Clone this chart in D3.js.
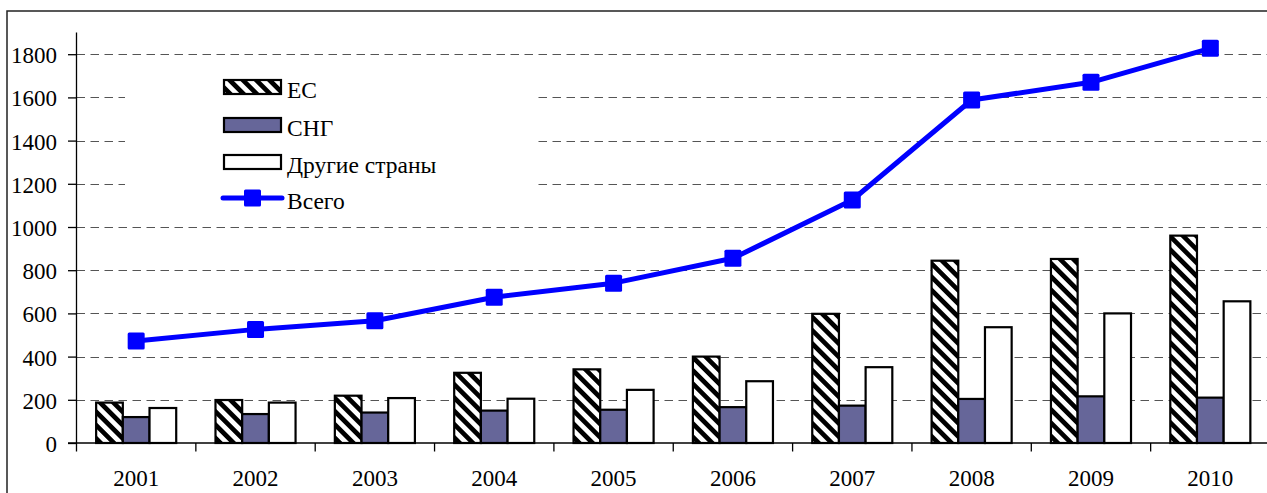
<!DOCTYPE html>
<html>
<head>
<meta charset="utf-8">
<script src="https://cdn.jsdelivr.net/npm/d3@7"></script>
<style>
body { margin: 0; background: #fff; }
svg { display: block; }
</style>
</head>
<body>
<svg id="chart" width="1267" height="493"></svg>
<script>
(function(){

var years = ["2001", "2002", "2003", "2004", "2005", "2006", "2007", "2008", "2009", "2010"];
var seriesNames = ["ЕС", "СНГ", "Другие страны"];
var eu = [187, 199, 219, 325, 341, 400, 598, 844, 852, 960];
var cis = [120, 134, 141, 150, 154, 166, 173, 204, 216, 210];
var other = [162, 187, 208, 205, 246, 286, 351, 536, 600, 656];
var total = [472, 526, 566, 675, 740, 855, 1125, 1588, 1670, 1827];
var totalName = "Всего";
var yTicks = [0, 200, 400, 600, 800, 1000, 1200, 1400, 1600, 1800];

var serif = "'Liberation Serif', 'Times New Roman', serif";
var svg = d3.select("#chart");

// hatch for EU bars
var defs = svg.append("defs");
defs.append("pattern")
	.attr("id", "hatch")
	.attr("patternUnits", "userSpaceOnUse")
	.attr("width", 9.4)
	.attr("height", 9.4)
	.attr("patternTransform", "rotate(-45)")
	.call(function(p){
		p.append("rect").attr("width", 9.4).attr("height", 9.4).attr("fill", "#fff");
		p.append("rect").attr("width", 4.7).attr("height", 9.4).attr("fill", "#000");
	});

var fills = ["url(#hatch)", "#666699", "#ffffff"];
var values = [eu, cis, other];

var x = d3.scaleBand().domain(years).range([76.5, 1270]);
var xs = d3.scaleBand().domain(seriesNames).range([0, x.bandwidth()]).paddingOuter(0.736);
var y = d3.scaleLinear().domain([0, 1900]).range([443, 32.6]);

// outer frame
svg.append("rect")
	.attr("x", 7).attr("y", 11)
	.attr("width", 1300).attr("height", 500)
	.attr("fill", "none")
	.attr("stroke", "#222")
	.attr("stroke-width", 1.5);

// gridlines
svg.append("g")
	.selectAll("line")
	.data(yTicks.slice(1))
	.join("line")
		.attr("x1", 76.5)
		.attr("x2", 1270)
		.attr("y1", function(d){ return Math.round(y(d)) + 0.5; })
		.attr("y2", function(d){ return Math.round(y(d)) + 0.5; })
		.attr("stroke", "#555")
		.attr("stroke-width", 1)
		.attr("stroke-dasharray", "8.5,5.5");

// legend background hides the gridlines
svg.append("rect")
	.attr("x", 125).attr("y", 66)
	.attr("width", 412).attr("height", 148)
	.attr("fill", "#fff");

//BARS
seriesNames.forEach(function(name, i){
	svg.append("g")
		.selectAll("rect")
		.data(values[i])
		.join("rect")
			.attr("x", function(d, j){ return x(years[j]) + xs(name); })
			.attr("y", function(d){ return y(d); })
			.attr("width", xs.bandwidth())
			.attr("height", function(d){ return y(0) - y(d); })
			.attr("fill", fills[i])
			.attr("stroke", "#000")
			.attr("stroke-width", 2.2);
});

//TOTAL LINE
var line = d3.line()
	.x(function(d, j){ return x(years[j]) + x.bandwidth() / 2; })
	.y(function(d){ return y(d); });

svg.append("path")
	.datum(total)
	.attr("d", line)
	.attr("fill", "none")
	.attr("stroke", "#0000ff")
	.attr("stroke-width", 5)
	.attr("stroke-linejoin", "round");

svg.append("g")
	.selectAll("rect")
	.data(total)
	.join("rect")
		.attr("x", function(d, j){ return x(years[j]) + x.bandwidth() / 2 - 8.5; })
		.attr("y", function(d){ return y(d) - 8.5; })
		.attr("width", 17)
		.attr("height", 17)
		.attr("rx", 1.5)
		.attr("fill", "#0000ff");

//AXES
var yAxis = d3.axisLeft(y).tickValues(yTicks).tickSize(8.5).tickPadding(11).tickFormat(d3.format("d"));
svg.append("g")
	.attr("transform", "translate(76.5,0)")
	.call(yAxis)
	.call(function(g){
		g.select(".domain").remove();
		g.selectAll("line").attr("stroke-width", 1.3);
		g.selectAll("text")
			.style("font-family", serif)
			.style("font-size", "23px")
			.attr("dy", "0.37em")
			.attr("fill", "#000");
	});

svg.append("line")
	.attr("x1", 76.5).attr("x2", 76.5)
	.attr("y1", 32.6).attr("y2", 451.5)
	.attr("stroke", "#000").attr("stroke-width", 1.3);

svg.append("line")
	.attr("x1", 68).attr("x2", 1270)
	.attr("y1", 443).attr("y2", 443)
	.attr("stroke", "#000").attr("stroke-width", 1.3);

svg.append("g")
	.selectAll("line")
	.data(years.slice(1))
	.join("line")
		.attr("x1", function(d){ return x(d); })
		.attr("x2", function(d){ return x(d); })
		.attr("y1", 443).attr("y2", 451.5)
		.attr("stroke", "#000").attr("stroke-width", 1.3);

svg.append("g")
	.selectAll("text")
	.data(years)
	.join("text")
		.attr("x", function(d){ return x(d) + x.bandwidth() / 2; })
		.attr("y", 486)
		.attr("text-anchor", "middle")
		.style("font-family", serif)
		.style("font-size", "23px")
		.text(function(d){ return d; });

//LEGEND
var legendRows = [87, 125, 162];
seriesNames.forEach(function(name, i){
	svg.append("rect")
		.attr("x", 224).attr("y", legendRows[i] - 7)
		.attr("width", 57).attr("height", 14)
		.attr("fill", fills[i])
		.attr("stroke", "#000")
		.attr("stroke-width", 2.2);
	svg.append("text")
		.attr("x", 287).attr("y", legendRows[i] + 10.5)
		.style("font-family", serif)
		.style("font-size", "23.5px")
		.text(name);
});

svg.append("line")
	.attr("x1", 223).attr("x2", 282)
	.attr("y1", 198).attr("y2", 198)
	.attr("stroke", "#0000ff").attr("stroke-width", 5).attr("stroke-linecap", "round");
svg.append("rect")
	.attr("x", 244).attr("y", 189.5)
	.attr("width", 17).attr("height", 17).attr("rx", 1.5)
	.attr("fill", "#0000ff");
svg.append("text")
	.attr("x", 287).attr("y", 208.5)
	.style("font-family", serif)
	.style("font-size", "23.5px")
	.text(totalName);

})()
</script>
</body>
</html>
